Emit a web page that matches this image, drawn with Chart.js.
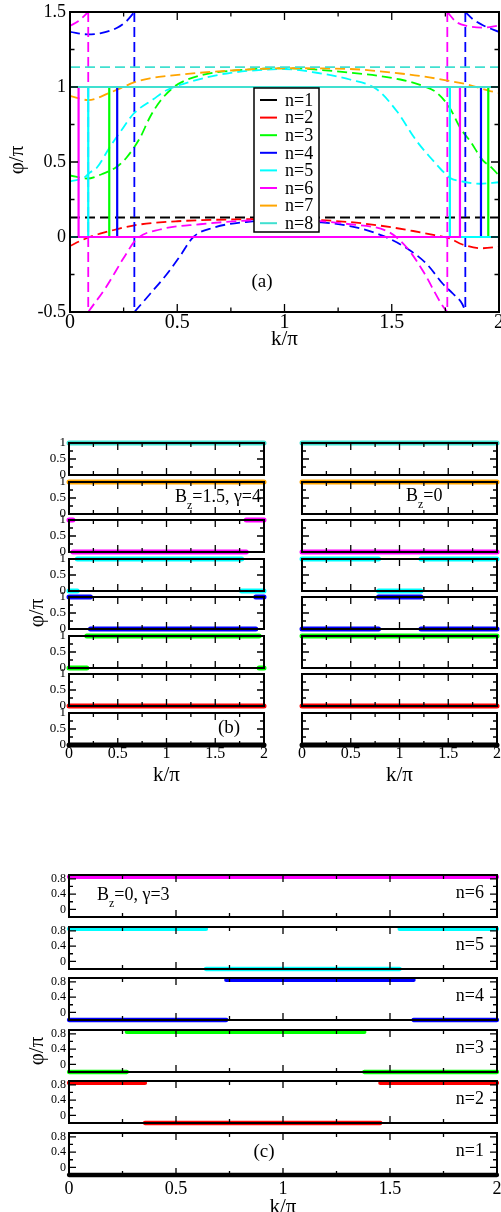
<!DOCTYPE html>
<html lang="en">
<head>
  <meta charset="UTF-8" />
  <title>Phase vs k/π</title>
  <script src="https://cdn.jsdelivr.net/npm/chart.js"></script>
  <style>
    body { margin: 0; background: #fff; }
    #page { position: relative; width: 501px; height: 1212px; overflow: hidden; background: #fff; }
    .box { position: absolute; }
  </style>
</head>
<body>
<div id="page"></div>
<script>
  // ---------- shared labels / ticks ----------
  const bandLabels = ['n=1', 'n=2', 'n=3', 'n=4', 'n=5', 'n=6', 'n=7', 'n=8'];
  const bandColors = ['#000000', '#ff0000', '#00ff00', '#0000ff', '#00ffff', '#ff00ff', '#ffa500', '#40e0d0'];
  const kTicks = [0, 0.5, 1, 1.5, 2];
  const kTickLabels = ['0', '0.5', '1', '1.5', '2'];
  const kMinor = [0.25, 0.75, 1.25, 1.75];

  const phiTicksA = [-0.5, 0, 0.5, 1, 1.5];
  const phiTickLabelsA = ['-0.5', '0', '0.5', '1', '1.5'];
  const phiMinorA = [-0.25, 0.25, 0.75, 1.25];
  const phiTicksB = [0, 0.5, 1];
  const phiTickLabelsB = ['0', '0.5', '1'];
  const phiMinorB = [0.25, 0.75];
  const phiTicksC = [0, 0.4, 0.8];
  const phiTickLabelsC = ['0', '0.4', '0.8'];
  const phiMinorC = [0.2, 0.6];

  // ---------- panel (a): dashed curves [k/π, φ/π] ----------
  const dashA1 = [[0, 0.13], [2, 0.13]];
  const dashA2 = [[0, -0.06], [0.05, -0.025], [0.1, 0.005], [0.14, 0.022], [0.2, 0.045], [0.3, 0.078], [0.5, 0.105],
                  [0.8, 0.118], [1.0, 0.12], [1.3, 0.1], [1.45, 0.075], [1.6, 0.04], [1.7, 0.012], [1.77, -0.01],
                  [1.83, -0.05], [1.92, -0.075], [2, -0.065]];
  const dashA3 = [[0, 0.41], [0.08, 0.39], [0.15, 0.42], [0.22, 0.47], [0.264, 0.53], [0.326, 0.66], [0.373, 0.8],
                  [0.42, 0.905], [0.48, 0.995], [0.54, 1.045], [0.64, 1.088], [0.75, 1.108], [1.0, 1.125], [1.3, 1.096],
                  [1.54, 1.05], [1.647, 1.007], [1.71, 0.962], [1.77, 0.862], [1.818, 0.73], [1.865, 0.64],
                  [1.927, 0.507], [1.958, 0.473], [2, 0.41]];
  const dashA4a = [[0, 1.367], [0.08, 1.351], [0.14, 1.358], [0.22, 1.395], [0.264, 1.44], [0.30, 1.5]];
  const dashA4b = [[0.30, -0.5], [0.373, -0.38], [0.45, -0.25], [0.513, -0.127], [0.575, 0], [0.668, 0.062],
                   [0.82, 0.1], [1.0, 0.112], [1.15, 0.1], [1.305, 0.073], [1.46, 0.007], [1.57, -0.075],
                   [1.663, -0.18], [1.74, -0.315], [1.787, -0.38], [1.83, -0.45], [1.843, -0.5]];
  const dashA4c = [[1.843, 1.5], [1.88, 1.45], [1.927, 1.41], [2, 1.367]];
  const wrapA4 = [0.30, 1.843];
  const dashA5 = [[0, 0.37], [0.07, 0.4], [0.093, 0.43], [0.124, 0.46], [0.186, 0.6], [0.249, 0.73], [0.295, 0.82],
                  [0.39, 0.92], [0.45, 0.978], [0.56, 1.035], [0.73, 1.09], [0.9, 1.115], [1.0, 1.12], [1.15, 1.095],
                  [1.305, 1.05], [1.43, 0.985], [1.523, 0.84], [1.616, 0.64], [1.694, 0.507], [1.73, 0.45],
                  [1.77, 0.395], [1.83, 0.37], [1.91, 0.355], [2, 0.365]];
  const dashA6a = [[0, 1.407], [0.04, 1.44], [0.085, 1.5]];
  const dashA6b = [[0.085, -0.5], [0.17, -0.33], [0.25, -0.14], [0.31, -0.015], [0.42, 0.05], [0.606, 0.085],
                   [0.83, 0.11], [1.0, 0.115], [1.305, 0.085], [1.49, 0.03], [1.57, -0.07], [1.647, -0.23],
                   [1.733, -0.45], [1.759, -0.5]];
  const dashA6c = [[1.759, 1.5], [1.8, 1.435], [1.85, 1.407], [1.927, 1.396], [2, 1.41]];
  const wrapA6 = [0.085, 1.759];
  const dashA7 = [[0, 0.94], [0.085, 0.913], [0.186, 0.962], [0.249, 1.0], [0.295, 1.029], [0.373, 1.058],
                  [0.45, 1.073], [0.606, 1.095], [0.76, 1.111], [1.0, 1.125], [1.305, 1.12], [1.54, 1.09],
                  [1.65, 1.07], [1.77, 1.04], [1.85, 1.018], [1.958, 0.973], [2, 0.96]];
  const dashA8 = [[0, 1.133], [2, 1.133]];

  // ---------- panel (a) solid / panel (b) left: Zak phase segments [k0, k1, φ/π] ----------
  const zakA1 = [[0, 2, 0]];
  const zakA2 = [[0, 2, 0]];
  const zakA3 = [[0, 0.183, 0], [0.183, 1.95, 1], [1.95, 2, 0]];
  const zakA4 = [[0, 0.22, 1], [0.22, 1.916, 0], [1.916, 2, 1]];
  const zakA5 = [[0, 0.085, 0], [0.085, 1.771, 1], [1.771, 2, 0]];
  const zakA6 = [[0, 0.04, 1], [0.04, 1.818, 0], [1.818, 2, 1]];
  const zakA7 = [[0, 2, 1]];
  const zakA8 = [[0, 2, 1]];

  // ---------- panel (b) right: B_z = 0 ----------
  const zakB1 = [[0, 2, 0]];
  const zakB2 = [[0, 2, 0]];
  const zakB3 = [[0, 2, 1]];
  const zakB4 = [[0, 0.785, 0], [0.785, 1.22, 1], [1.22, 2, 0]];
  const zakB5 = [[0, 0.785, 1], [0.785, 1.22, 0], [1.22, 2, 1]];
  const zakB6 = [[0, 2, 0]];
  const zakB7 = [[0, 2, 1]];
  const zakB8 = [[0, 2, 1]];

  // ---------- panel (c): B_z = 0, γ = 3 ----------
  const zakC1 = [[0, 2, -0.2]];
  const zakC2 = [[0, 0.355, 0.85], [0.355, 1.455, -0.2], [1.455, 2, 0.85]];
  const zakC3 = [[0, 0.27, -0.2], [0.27, 1.38, 0.85], [1.38, 2, -0.2]];
  const zakC4 = [[0, 0.735, -0.2], [0.735, 1.61, 0.85], [1.61, 2, -0.2]];
  const zakC5 = [[0, 0.64, 0.85], [0.64, 1.545, -0.2], [1.545, 2, 0.85]];
  const zakC6 = [[0, 2, 0.85]];

  const kRange = [0, 2];
  const phiRangeA = [-0.5, 1.5];
  const phiRangeB = [0, 1];
  const phiRangeC = [-0.2, 0.9];

  // ---------- helpers ----------
  const page = document.getElementById('page');
  const SERIF = '"Liberation Serif", "Times New Roman", serif';

  const pairs = arr => arr.map(([x, y]) => ({x, y}));
  function stepPoints(segs) {
    const pts = [];
    segs.forEach(([a, b, v]) => pts.push({x: a, y: v}, {x: b, y: v}));
    return pts;
  }
  function barPoints(segs) {
    const pts = [];
    segs.forEach(([a, b, v], i) => {
      if (i) pts.push({x: a, y: null});
      pts.push({x: a, y: v}, {x: b, y: v});
    });
    return pts;
  }
  function thickSet(segs, color, w) {
    return { data: barPoints(segs), borderColor: color, borderWidth: w, borderCapStyle: 'round',
             borderJoinStyle: 'round', pointRadius: 0, clip: false, spanGaps: false, fill: false };
  }

  function drawText(ctx, t, ox, oy) {
    ctx.save();
    ctx.fillStyle = '#000';
    const x = t.x - ox, y = t.y - oy;
    if (t.sub) {
      const small = Math.round(t.size * 0.68);
      ctx.textBaseline = 'alphabetic';
      ctx.font = t.size + 'px ' + SERIF;
      const w1 = ctx.measureText(t.pre).width, w3 = ctx.measureText(t.post).width;
      ctx.font = small + 'px ' + SERIF;
      const w2 = ctx.measureText(t.sub).width;
      let x0 = t.align === 'right' ? x - (w1 + w2 + w3) : x;
      ctx.textAlign = 'left';
      ctx.font = t.size + 'px ' + SERIF;
      ctx.fillText(t.pre, x0, y);
      ctx.font = small + 'px ' + SERIF;
      ctx.fillText(t.sub, x0 + w1, y + t.size * 0.4);
      ctx.font = t.size + 'px ' + SERIF;
      ctx.fillText(t.post, x0 + w1 + w2, y);
    } else {
      ctx.font = t.size + 'px ' + SERIF;
      ctx.textAlign = t.align || 'center';
      ctx.textBaseline = 'middle';
      ctx.translate(x, y);
      if (t.rot) ctx.rotate(-Math.PI / 2);
      ctx.fillText(t.t, 0, 0);
    }
    ctx.restore();
  }

  // frame with inward ticks, tick labels, texts, legend
  function decor(cfg) {
    return {
      id: 'decor',
      afterDatasetsDraw(chart) {
        const {ctx, chartArea: a} = chart;
        const sx = chart.scales.x, sy = chart.scales.y;
        ctx.save();
        ctx.strokeStyle = '#000';
        ctx.lineWidth = 1.3;
        ctx.beginPath();
        const xt = (vals, len) => vals.forEach(v => {
          const p = sx.getPixelForValue(v);
          ctx.moveTo(p, a.bottom); ctx.lineTo(p, a.bottom - len);
          ctx.moveTo(p, a.top); ctx.lineTo(p, a.top + len);
        });
        const yt = (vals, len) => vals.forEach(v => {
          const p = sy.getPixelForValue(v);
          ctx.moveTo(a.left, p); ctx.lineTo(a.left + len, p);
          ctx.moveTo(a.right, p); ctx.lineTo(a.right - len, p);
        });
        xt(kTicks, cfg.major); xt(kMinor, cfg.minor);
        yt(cfg.yMajor, cfg.major); yt(cfg.yMinor, cfg.minor);
        ctx.stroke();
        ctx.lineWidth = 2;
        ctx.strokeRect(a.left, a.top, a.right - a.left, a.bottom - a.top);

        ctx.fillStyle = '#000';
        if (cfg.yLabels) {
          ctx.font = cfg.yFont + 'px ' + SERIF;
          ctx.textAlign = 'right';
          ctx.textBaseline = 'middle';
          cfg.yMajor.forEach((v, i) => ctx.fillText(cfg.yLabels[i], a.left - cfg.yGap, sy.getPixelForValue(v)));
        }
        if (cfg.xLabels) {
          ctx.font = cfg.xFont + 'px ' + SERIF;
          ctx.textAlign = 'center';
          ctx.textBaseline = 'middle';
          kTicks.forEach((v, i) => ctx.fillText(kTickLabels[i], sx.getPixelForValue(v), a.bottom + cfg.xGap));
          drawText(ctx, {t: 'k/π', x: (a.left + a.right) / 2 + cfg.ox, y: a.bottom + cfg.titleGap + cfg.oy, size: 21}, cfg.ox, cfg.oy);
        }
        if (cfg.legend) {
          const L = cfg.legend;
          const lx = L.x - cfg.ox, ly = L.y - cfg.oy;
          ctx.fillStyle = '#fff';
          ctx.fillRect(lx, ly, L.w, L.h);
          ctx.lineWidth = 1.5;
          ctx.strokeStyle = '#000';
          ctx.strokeRect(lx, ly, L.w, L.h);
          ctx.font = '18px ' + SERIF;
          ctx.textAlign = 'left';
          ctx.textBaseline = 'middle';
          bandLabels.forEach((lab, i) => {
            const yy = ly + L.row0 + i * L.step;
            ctx.strokeStyle = bandColors[i];
            ctx.lineWidth = 2;
            ctx.beginPath(); ctx.moveTo(lx + 6, yy); ctx.lineTo(lx + 23, yy); ctx.stroke();
            ctx.fillStyle = '#000';
            ctx.fillText(lab, lx + 31, yy + 1);
          });
        }
        (cfg.texts || []).forEach(t => drawText(ctx, t, cfg.ox, cfg.oy));
        ctx.restore();
      }
    };
  }

  function addChart(box, pad, yRange, datasets, cfg) {
    const div = document.createElement('div');
    div.className = 'box';
    Object.assign(div.style, {left: box[0] + 'px', top: box[1] + 'px', width: box[2] + 'px', height: box[3] + 'px'});
    const cv = document.createElement('canvas');
    cv.width = box[2]; cv.height = box[3];
    cv.style.width = box[2] + 'px'; cv.style.height = box[3] + 'px';
    div.appendChild(cv);
    page.appendChild(div);
    cfg.ox = box[0]; cfg.oy = box[1];
    return new Chart(cv, {
      type: 'line',
      data: { datasets },
      options: {
        responsive: false, animation: false, events: [],
        layout: { padding: pad },
        plugins: { legend: { display: false }, tooltip: { enabled: false } },
        elements: { point: { radius: 0 }, line: { tension: 0 } },
        scales: {
          x: { type: 'linear', min: kRange[0], max: kRange[1], display: false },
          y: { type: 'linear', min: yRange[0], max: yRange[1], display: false }
        }
      },
      plugins: [decor(cfg)]
    });
  }

  // ---------- panel (a) ----------
  const dashPiecesA = [[dashA1], [dashA2], [dashA3], [dashA4a, dashA4b, dashA4c], [dashA5], [dashA6a, dashA6b, dashA6c], [dashA7], [dashA8]];
  const wrapsA = [[], [], [], wrapA4, [], wrapA6, [], []];
  const zakSetA = [zakA1, zakA2, zakA3, zakA4, zakA5, zakA6, zakA7, zakA8];
  const dsA = [];
  bandColors.forEach((c, i) => {
    dashPiecesA[i].forEach(p => dsA.push({ data: pairs(p), borderColor: c, borderWidth: 1.8, borderDash: [10, 5],
      cubicInterpolationMode: 'monotone', pointRadius: 0, fill: false, order: 30 - i }));
    wrapsA[i].forEach(k => dsA.push({ data: [{x: k, y: phiRangeA[1]}, {x: k, y: phiRangeA[0]}], borderColor: c,
      borderWidth: 1.8, borderDash: [10, 5], pointRadius: 0, fill: false, order: 30 - i }));
    dsA.push({ data: stepPoints(zakSetA[i]), borderColor: c, borderWidth: 2.2, pointRadius: 0, fill: false, order: 10 - i });
  });
  addChart([0, 0, 501, 352], {left: 70, right: 2, top: 12, bottom: 40}, phiRangeA, dsA, {
    major: 8, minor: 4.5, yMajor: phiTicksA, yMinor: phiMinorA, yLabels: phiTickLabelsA, yFont: 18, yGap: 4,
    xLabels: true, xFont: 20, xGap: 11, titleGap: 27,
    legend: {x: 254, y: 88, w: 65, h: 144, row0: 12, step: 17.6},
    texts: [
      {t: '(a)', x: 262, y: 282, size: 19},
      {t: 'φ/π', x: 17, y: 160, size: 21, rot: true}
    ]
  });

  // ---------- panel (b) ----------
  const zakLeftB = [zakA8, zakA7, zakA6, zakA5, zakA4, zakA3, zakA2, zakA1];
  const zakRightB = [zakB8, zakB7, zakB6, zakB5, zakB4, zakB3, zakB2, zakB1];
  for (let i = 0; i < 8; i++) {
    const top = Math.round(443 + i * 38.5);
    const last = i === 7;
    const color = bandColors[7 - i];
    const h = 32 + 12 + (last ? 46 : 0);
    const padB = last ? 52 : 6;
    const textsL = [], textsR = [];
    if (i === 1) {
      textsL.push({sub: 'z', pre: 'B', post: '=1.5, γ=4', x: 261, y: top + 20, size: 18, align: 'right'});
      textsR.push({sub: 'z', pre: 'B', post: '=0', x: 406, y: top + 19, size: 18});
    }
    if (i === 4) textsL.push({t: 'φ/π', x: 37, y: top + 16, size: 21, rot: true});
    if (last) textsL.push({t: '(b)', x: 229, y: top + 15, size: 19});
    addChart([0, top - 6, 270, h], {left: 69, right: 6, top: 6, bottom: padB}, phiRangeB,
      [thickSet(zakLeftB[i], color, 5)], {
        major: 7, minor: 4, yMajor: phiTicksB, yMinor: phiMinorB, yLabels: phiTickLabelsB, yFont: 13, yGap: 3,
        xLabels: last, xFont: 16, xGap: 9, titleGap: 30, texts: textsL
      });
    addChart([290, top - 6, 211, h], {left: 12, right: 4, top: 6, bottom: padB}, phiRangeB,
      [thickSet(zakRightB[i], color, 5)], {
        major: 7, minor: 4, yMajor: phiTicksB, yMinor: phiMinorB, yLabels: null,
        xLabels: last, xFont: 16, xGap: 9, titleGap: 30, texts: textsR
      });
  }

  // ---------- panel (c) ----------
  const zakSetC = [zakC6, zakC5, zakC4, zakC3, zakC2, zakC1];
  for (let i = 0; i < 6; i++) {
    const top = Math.round(875 + i * 51.5);
    const last = i === 5;
    const n = 6 - i;
    const texts = [{t: 'n=' + n, x: 484, y: top + 18, size: 18, align: 'right'}];
    if (i === 0) texts.push({sub: 'z', pre: 'B', post: '=0, γ=3', x: 97, y: top + 25, size: 18});
    if (i === 3) texts.push({t: 'φ/π', x: 37, y: top + 21, size: 21, rot: true});
    if (last) texts.push({t: '(c)', x: 264, y: top + 19, size: 19});
    addChart([0, top - 6, 501, 42 + 12 + (last ? 40 : 0)], {left: 69, right: 4, top: 6, bottom: last ? 46 : 6}, phiRangeC,
      [thickSet(zakSetC[i], bandColors[n - 1], 4.3)], {
        major: 7, minor: 4, yMajor: phiTicksC, yMinor: phiMinorC, yLabels: phiTickLabelsC, yFont: 12, yGap: 3,
        xLabels: last, xFont: 18, xGap: 14, titleGap: 32, texts
      });
  }
</script>
</body>
</html>
